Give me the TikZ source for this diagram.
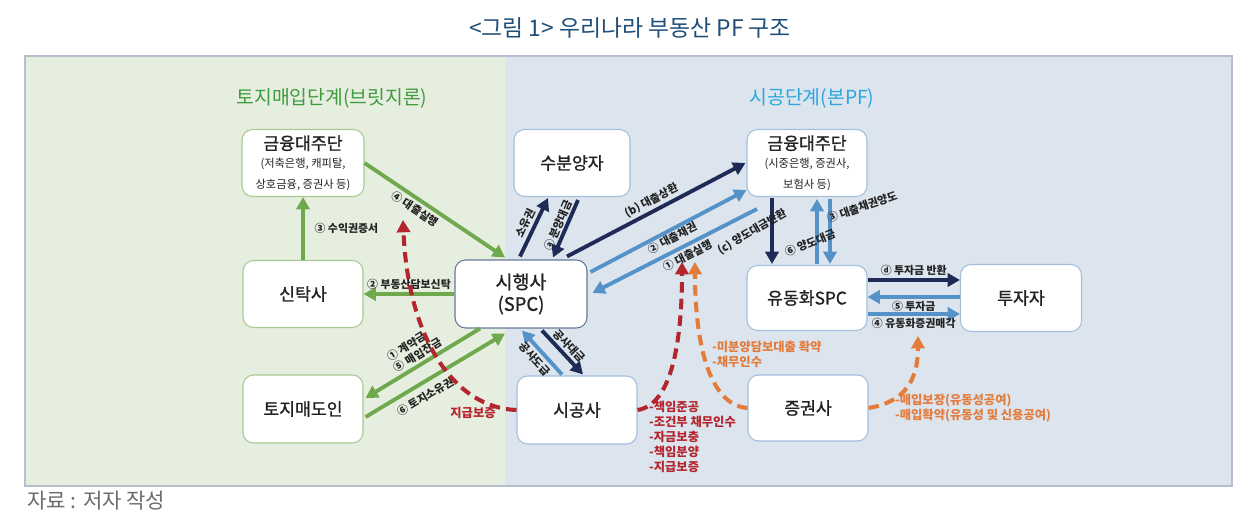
\documentclass[tikz,border=0pt]{standalone}
\usepackage{fontspec}
\setmainfont{Noto Sans CJK KR}
\newfontfamily\boxfont[FakeBold=1.1]{Noto Sans CJK KR}
\usetikzlibrary{arrows.meta}
\definecolor{titleblue}{HTML}{1F4E79}
\definecolor{hdgreen}{HTML}{3E9B3E}
\definecolor{hdblue}{HTML}{2BA6DE}
\definecolor{panelgreen}{HTML}{E6EEDF}
\definecolor{panelblue}{HTML}{DCE4EE}
\definecolor{framegray}{HTML}{B7BECF}
\definecolor{boxgreen}{HTML}{A9C992}
\definecolor{boxblue}{HTML}{A3BFDC}
\definecolor{boxdark}{HTML}{67779A}
\definecolor{arrgreen}{HTML}{6FA94E}
\definecolor{arrnavy}{HTML}{1F2B57}
\definecolor{arrblue}{HTML}{5592C8}
\definecolor{dashred}{HTML}{B3262E}
\definecolor{dashorange}{HTML}{E37B3B}
\definecolor{labeltxt}{HTML}{222222}
\newcommand{\smalltxt}{\normalfont\fontsize{6.4}{7.6}\selectfont}
\tikzset{
  box/.style={rounded corners=6pt, fill=white, line width=0.6pt, minimum width=2.4cm,
    minimum height=1.34cm, align=center, text=labeltxt, font=\boxfont\fontsize{9.8}{12}\selectfont},
  gbox/.style={box, draw=boxgreen},
  bbox/.style={box, draw=boxblue},
  lbl/.style={font=\fontsize{6.2}{7.4}\selectfont\bfseries, text=labeltxt, inner sep=1.5pt},
  rtxt/.style={font=\fontsize{7}{8.6}\selectfont\bfseries, text=dashred, align=left, inner sep=1pt},
  otxt/.style={rtxt, text=dashorange},
  garrow/.style={draw=arrgreen, line width=2.2pt, ->},
  narrow/.style={draw=arrnavy, line width=2.2pt, ->},
  barrow/.style={draw=arrblue, line width=2.2pt, ->},
  rdashed/.style={draw=dashred, line width=2.3pt, dash pattern=on 6pt off 3.5pt, ->},
  odashed/.style={rdashed, draw=dashorange},
  >={Triangle[length=7pt,width=7.5pt]}
}
\begin{document}
\begin{tikzpicture}[x=0.02cm, y=-0.02cm]
      \useasboundingbox (0,0) rectangle (1255,526);
      \fill[white] (0,0) rectangle (1255,526);
      \fill[panelgreen] (25,56) rectangle (505,486);
      \fill[panelblue] (505,56) rectangle (1232,486);
      \draw[framegray, line width=1.6pt] (25,56) rectangle (1232,486);

      \node[font=\fontsize{13}{15}\selectfont, text=titleblue] (title) at (630,28) {<그림 1> 우리나라 부동산 PF 구조};
      \node[font=\fontsize{11}{13}\selectfont, text=hdgreen] (hdleft) at (332,98) {토지매입단계(브릿지론)};
      \node[font=\fontsize{11}{13}\selectfont, text=hdblue] (hdright) at (812,98) {시공단계(본PF)};
      \node[anchor=west, inner sep=0pt, font=\fontsize{12}{14}\selectfont, text=gray!85!black] (src) at (27,501) {자료 : 저자 작성};

      \node[gbox, minimum width=2.44cm] (fin1) at (303,163) {금융대주단\\[-2pt]\smalltxt (저축은행, 캐피탈,\\\smalltxt 상호금융, 증권사 등)};
      \node[gbox] (trust) at (303,294) {신탁사};
      \node[gbox, minimum height=1.36cm] (seller) at (303,409) {토지매도인};
      \node[box, draw=boxdark, minimum width=2.64cm, minimum height=1.36cm, font=\boxfont\fontsize{10.5}{12.5}\selectfont] (spc) at (521,294) {시행사\\(SPC)};
      \node[bbox, minimum width=2.32cm] (buyer) at (572,163) {수분양자};
      \node[bbox, minimum height=1.36cm] (cons) at (577,410) {시공사};
      \node[bbox] (fin2) at (807,163) {금융대주단\\[-2pt]\smalltxt (시중은행, 증권사,\\\smalltxt 보험사 등)};
      \node[bbox, minimum height=1.3cm] (abs) at (807,298) {유동화SPC};
      \node[bbox, minimum width=2.42cm] (inv) at (1021,298) {투자자};
      \node[bbox, minimum height=1.32cm] (sec) at (808,408) {증권사};

      \draw[garrow] (trust) -- (fin1) node[lbl, midway, right=4pt] {③ 수익권증서};
      \draw[garrow] (fin1.east) -- ([shift={(-16,-2)}]spc.north) node[lbl, sloped, below, pos=0.4] {④ 대출실행};
      \draw[garrow] (spc.west) -- (trust.east) node[lbl, above, midway] {② 부동산담보신탁};
      \draw[garrow,<-] ([shift={(2,-11)}]seller.east) -- ([shift={(-41,0)}]spc.south) node[lbl, sloped, above, midway, align=left] {① 계약금\\⑤ 매입잔금};
      \draw[garrow] ([shift={(2,8)}]seller.east) -- ([shift={(-16,5)}]spc.south) node[lbl, sloped, below=2pt, pos=0.38] {⑥ 토지소유권};

      \draw[narrow] ([shift={(-1,-3)}]spc.north) -- ([shift={(-24,1)}]buyer.south) node[lbl, sloped, above, midway] {소유권};
      \draw[narrow,<-] ([shift={(32,-2)}]spc.north) -- ([shift={(6,3)}]buyer.south) node[lbl, sloped, above, midway, inner sep=0.5pt] {ⓐ 분양대금};
      \draw[narrow] ([shift={(46,-3)}]spc.north) -- ([shift={(-1,0)}]fin2.west) node[lbl, sloped, above, midway] {(b) 대출상환};
      \draw[barrow] ([shift={(3,-22)}]spc.east) -- ([shift={(0,27)}]fin2.west) node[lbl, sloped, below, midway, inner sep=0.5pt] {② 대출채권};
      \draw[barrow,<-] ([shift={(5,-1)}]spc.east) -- ([shift={(-50,12)}]fin2.south) node[lbl, sloped, below, pos=0.55] {① 대출실행};

      \draw[narrow] ([shift={(-35,1)}]fin2.south) -- ([shift={(-35,-1)}]abs.north);
      \draw[barrow] ([shift={(10,-1)}]abs.north) -- ([shift={(10,2)}]fin2.south);
      \draw[barrow] ([shift={(23,2)}]fin2.south) -- ([shift={(23,-1)}]abs.north);
      \draw[narrow] ([shift={(0,-18)}]abs.east) -- ([shift={(0,-18)}]inv.west) node[lbl, above, midway] {ⓓ 투자금 반환};
      \draw[barrow] ([shift={(0,-1)}]inv.west) -- ([shift={(0,-1)}]abs.east);
      \draw[barrow] ([shift={(0,16)}]abs.east) -- ([shift={(0,16)}]inv.west) node[lbl, above, midway, inner sep=0.5pt] {⑤ 투자금} node[lbl, below, midway] {④ 유동화증권매각};

      \draw[barrow,<-] ([shift={(1,2)}]spc.south) -- ([shift={(-15,-1)}]cons.north) node[lbl, sloped, below, midway] {공사도급};
      \draw[narrow] ([shift={(21,2)}]spc.south) -- ([shift={(6,-1)}]cons.north) node[lbl, sloped, above, midway] {공사대금};

      \coordinate (rtipa) at (403,220);
      \coordinate (rtipb) at (682,262);
      \coordinate (otipa) at (695,262);
      \coordinate (otipb) at (918,336);
      \draw[rdashed] (cons.west) .. controls (455,408) and (408,340) .. (rtipa);
      \draw[rdashed] (cons.east) .. controls (672,405) and (682,340) .. (rtipb);
      \draw[odashed] (sec.west) .. controls (708,405) and (695,340) .. (otipa);
      \draw[odashed] (sec.east) .. controls (905,402) and (918,380) .. (otipb);

      \node[lbl, rotate=30] (lblc) at (752,232) {(c) 양도대금반환};
      \node[lbl, rotate=22] (lblsix) at (810,243) {⑥ 양도대금};
      \node[lbl, rotate=19] (lblthree) at (862,207) {③ 대출채권양도};
      \node[rtxt] (guar) at (473,413) {지급보증};
      \node[rtxt, anchor=north west] (conslist) at (647,399) {-책임준공\\-조건부 채무인수\\-자금보충\\-책임분양\\-지급보증};
      \node[otxt, anchor=north west] (seclista) at (710,339) {-미분양담보대출 확약\\-채무인수};
      \node[otxt, anchor=north west] (seclistb) at (893,392) {-매입보장(유동성공여)\\-매입확약(유동성 및 신용공여)};
\end{tikzpicture}
\end{document}
